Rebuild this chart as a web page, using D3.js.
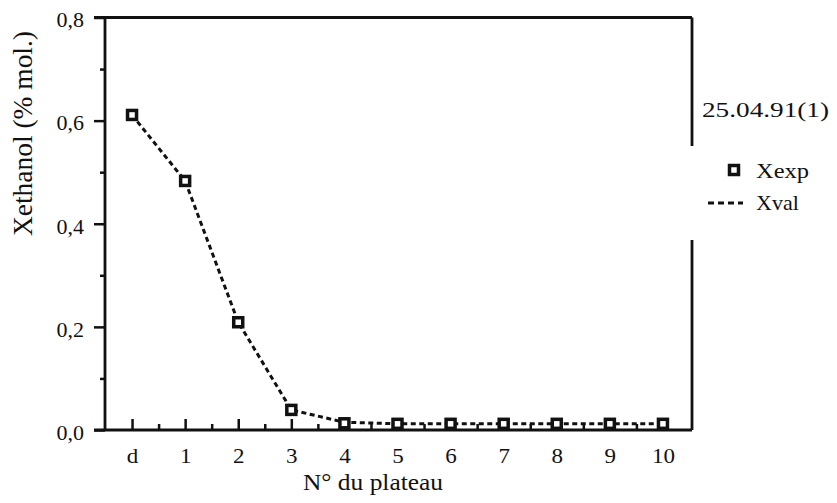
<!DOCTYPE html>
<html>
<head>
<meta charset="utf-8">
<script src="https://cdn.jsdelivr.net/npm/d3@7"></script>
<style>
  html, body { margin: 0; padding: 0; background: #fff; }
  svg { display: block; }
  text { font-family: "Liberation Serif", "Times New Roman", serif; fill: #111; }
</style>
</head>
<body>
<svg id="chart" width="837" height="503"></svg>
<script>
// ---- data ----
const categories = ["d", "1", "2", "3", "4", "5", "6", "7", "8", "9", "10"];
const xexp = [0.611, 0.483, 0.209, 0.039, 0.013, 0.012, 0.012, 0.012, 0.012, 0.012, 0.012];
const xval = [0.611, 0.483, 0.209, 0.039, 0.015, 0.012, 0.012, 0.012, 0.012, 0.012, 0.012];
const yMajorTicks = [0, 0.2, 0.4, 0.6, 0.8];
const yMinorTicks = [0.1, 0.3, 0.5, 0.7];
const legendTitle = "25.04.91(1)";
const seriesNames = ["Xexp", "Xval"];
const xTitle = "N° du plateau";
const yTitle = "Xethanol (% mol.)";

// ---- layout ----
const svg = d3.select("#chart");
const mLeft = 105, mTop = 17.5, mBottom = 430, mRight = 692;
const ink = "#111";

const x = d3.scaleLinear().domain([-0.5, categories.length - 0.5]).range([105.5, 689.5]);
const y = d3.scaleLinear().domain([0, 0.8]).range([mBottom, mTop]);
const idx = d3.range(categories.length);

// Y axis major
const yAxis = d3.axisLeft(y).tickValues(yMajorTicks).tickSize(11).tickPadding(10)
  .tickFormat(d => d3.format(".1f")(d).replace(".", ","));
const gy = svg.append("g").attr("transform", `translate(${mLeft},0)`).call(yAxis);
gy.select(".domain").remove();
gy.selectAll(".tick line").attr("stroke", ink).attr("stroke-width", 2.5);
gy.selectAll(".tick text").attr("font-size", 22).attr("dy", "0.42em").attr("fill", ink);

// Y axis minor
const gym = svg.append("g").attr("transform", `translate(${mLeft},0)`)
  .call(d3.axisLeft(y).tickValues(yMinorTicks).tickSize(5).tickFormat(""));
gym.select(".domain").remove();
gym.selectAll(".tick line").attr("stroke", ink).attr("stroke-width", 2.5);

// X axis major (ticks pointing inward)
const xAxis = d3.axisBottom(x).tickValues(idx).tickSize(-11).tickPadding(19)
  .tickFormat(i => categories[i]);
const gx = svg.append("g").attr("transform", `translate(0,${mBottom})`).call(xAxis);
gx.select(".domain").remove();
gx.selectAll(".tick line").attr("stroke", ink).attr("stroke-width", 2.5);
gx.selectAll(".tick text").attr("font-size", 20).attr("fill", ink)
  .attr("transform", "scale(1.15,1)");

// X axis minor
const gxm = svg.append("g").attr("transform", `translate(0,${mBottom})`)
  .call(d3.axisBottom(x).tickValues(d3.range(0.5, categories.length - 1, 1)).tickSize(-6).tickFormat(""));
gxm.select(".domain").remove();
gxm.selectAll(".tick line").attr("stroke", ink).attr("stroke-width", 2.5);

// Frame
const frame = svg.append("g").attr("stroke", ink).attr("stroke-width", 2.8).attr("fill", "none");
frame.append("line").attr("x1", mLeft - 11).attr("x2", mRight).attr("y1", y(0.8)).attr("y2", y(0.8));
frame.append("line").attr("x1", mLeft - 11).attr("x2", mRight).attr("y1", y(0)).attr("y2", y(0));
frame.append("line").attr("x1", mLeft).attr("x2", mLeft).attr("y1", y(0.8)).attr("y2", y(0));
frame.append("line").attr("x1", mRight).attr("x2", mRight).attr("y1", y(0.8)).attr("y2", 146);
frame.append("line").attr("x1", mRight).attr("x2", mRight).attr("y1", 240).attr("y2", y(0));

// Xval dashed line
const line = d3.line().x((d, i) => x(i)).y(d => y(d));
svg.append("path").datum(xval).attr("d", line)
  .attr("fill", "none").attr("stroke", ink).attr("stroke-width", 3)
  .attr("stroke-dasharray", "5,3.5");

// Xexp squares
svg.append("g").selectAll("rect").data(xexp).join("rect")
  .attr("x", (d, i) => x(i) - 4.5).attr("y", d => y(d) - 4.5)
  .attr("width", 9).attr("height", 9)
  .attr("fill", "#fff").attr("stroke", ink).attr("stroke-width", 3.5);

// Axis titles
svg.append("text").attr("x", 303).attr("y", 490).attr("font-size", 24)
  .attr("textLength", 140).attr("lengthAdjust", "spacingAndGlyphs").text(xTitle);
svg.append("text").attr("transform", "translate(32,236) rotate(-90)")
  .attr("font-size", 27).attr("textLength", 205).attr("lengthAdjust", "spacingAndGlyphs")
  .text(yTitle);

// Legend
const lg = svg.append("g");
lg.append("text").attr("x", 702).attr("y", 117).attr("font-size", 22)
  .attr("textLength", 127).attr("lengthAdjust", "spacingAndGlyphs").text(legendTitle);
lg.append("rect").attr("x", 734 - 4.5).attr("y", 170 - 4.5).attr("width", 9).attr("height", 9)
  .attr("fill", "#fff").attr("stroke", ink).attr("stroke-width", 3.5);
lg.append("text").attr("x", 756).attr("y", 178).attr("font-size", 22)
  .attr("textLength", 53).attr("lengthAdjust", "spacingAndGlyphs").text(seriesNames[0]);
lg.append("line").attr("x1", 708).attr("x2", 743).attr("y1", 203).attr("y2", 203)
  .attr("stroke", ink).attr("stroke-width", 3).attr("stroke-dasharray", "6,4");
lg.append("text").attr("x", 756).attr("y", 210).attr("font-size", 22).text(seriesNames[1]);
</script>
</body>
</html>
